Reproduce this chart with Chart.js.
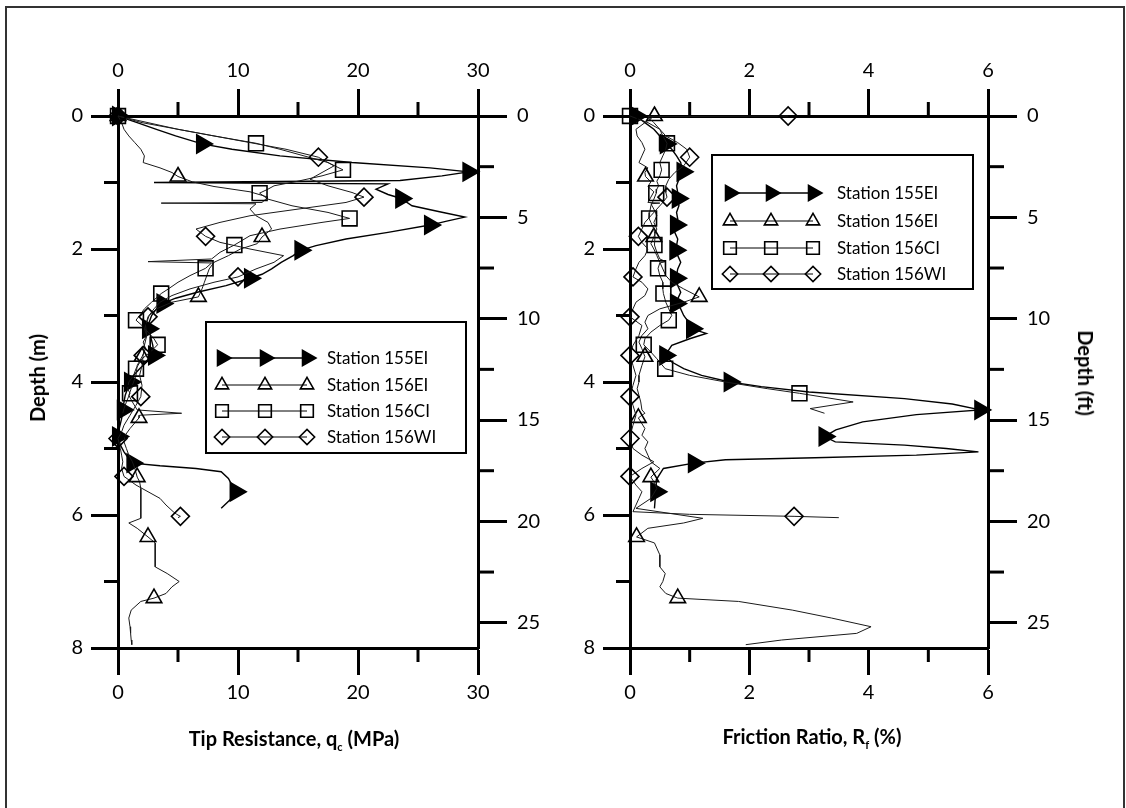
<!DOCTYPE html>
<html>
<head>
<meta charset="utf-8">
<title>CPT soundings</title>
<script src="https://cdn.jsdelivr.net/npm/chart.js"></script>
<style>
  html, body { margin: 0; padding: 0; background: #fff; overflow: hidden; }
  body { width: 1126px; height: 808px; position: relative; }
  canvas { position: absolute; left: 0; top: 0; }
  #frame { position: absolute; left: 5px; top: 6px; width: 1116px; height: 830px; border: 2px solid #333; }
  .title { position: absolute; font-family: Lato, sans-serif; font-weight: bold; font-size: 20px; color: #000; white-space: nowrap; transform: translate(-50%, -50%); }
  .title sub { font-size: 11px; vertical-align: -5px; }
  .rot-up { transform: translate(-50%, -50%) rotate(-90deg); }
  .rot-down { transform: translate(-50%, -50%) rotate(90deg); }
</style>
</head>
<body>
<div id="frame"></div>
<canvas id="qc-chart" width="1126" height="808"></canvas>
<canvas id="rf-chart" width="1126" height="808"></canvas>
<div class="title rot-up" style="left:37px; top:378px;">Depth (m)</div>
<div class="title rot-down" style="left:1086px; top:373px;">Depth (ft)</div>
<div class="title" style="left:294px; top:739px;">Tip Resistance, q<sub>c</sub> (MPa)</div>
<div class="title" style="left:812px; top:737px;">Friction Ratio, R<sub>f</sub> (%)</div>
<script>
// Station names
const stations = ["Station 155EI", "Station 156EI", "Station 156CI", "Station 156WI"];

// Axis ticks
const qcTicks = [0, 10, 20, 30];
const rfTicks = [0, 2, 4, 6];
const depthTicks = [0, 2, 4, 6, 8];
const feetTicks = [0, 5, 10, 15, 20, 25];
const qcMinor = [5, 15, 25];
const rfMinor = [1, 3, 5];
const depthMinor = [1, 3, 5, 7];
const feetMinor = [2.5, 7.5, 12.5, 17.5, 22.5];

// Station 155EI: depth (m), tip resistance (MPa), friction ratio (%)
const depth155EI_qc = [0, 0.05, 0.1, 0.2, 0.3, 0.42, 0.5, 0.6, 0.7, 0.78, 0.84, 0.9, 0.97, 1.0, 1.02, 1.1, 1.18, 1.24, 1.35, 1.44, 1.52, 1.58, 1.64, 1.75, 1.85, 1.95, 2.02, 2.1, 2.2, 2.3, 2.38, 2.44, 2.55, 2.65, 2.74, 2.82, 2.9, 3.0, 3.1, 3.2, 3.3, 3.45, 3.6, 3.7, 3.8, 3.9, 4.0, 4.1, 4.2, 4.3, 4.42, 4.55, 4.7, 4.82, 4.95, 5.05, 5.15, 5.22, 5.26, 5.3, 5.35, 5.45, 5.55, 5.65, 5.78, 5.9];
const qc155EI = [0, 0.8, 1.6, 3.2, 4.8, 7.0, 9.5, 13.5, 19.5, 26.0, 29.2, 27.0, 23.5, 3.0, 22.5, 21.5, 22.5, 23.6, 24.5, 26.8, 28.9, 27.4, 26.0, 22.5, 19.0, 16.5, 15.2, 14.6, 13.6, 12.8, 12.0, 11.0, 9.0, 6.6, 4.8, 3.7, 3.2, 2.8, 2.6, 2.5, 2.7, 2.9, 3.0, 2.4, 1.8, 1.3, 1.0, 0.8, 0.6, 0.5, 0.4, 0.3, 0.1, 0.0, 0.2, 0.5, 0.9, 1.2, 3.5, 6.5, 8.6, 9.2, 9.5, 9.8, 9.3, 8.6];
const depth155EI_rf = [0, 0.1, 0.2, 0.3, 0.42, 0.5, 0.6, 0.7, 0.84, 0.95, 1.05, 1.15, 1.24, 1.35, 1.45, 1.55, 1.64, 1.75, 1.85, 1.95, 2.02, 2.1, 2.2, 2.3, 2.44, 2.55, 2.65, 2.75, 2.82, 2.9, 3.0, 3.1, 3.2, 3.27, 3.35, 3.45, 3.6, 3.7, 3.8, 3.9, 4.0, 4.07, 4.15, 4.25, 4.33, 4.42, 4.49, 4.6, 4.72, 4.82, 4.9, 4.95, 5.0, 5.05, 5.1, 5.14, 5.17, 5.22, 5.3, 5.47, 5.65, 5.78, 5.9];
const rf155EI = [0.1, 0.25, 0.4, 0.5, 0.6, 0.7, 0.78, 0.85, 0.88, 0.82, 0.78, 0.8, 0.8, 0.82, 0.78, 0.8, 0.77, 0.75, 0.8, 0.78, 0.76, 0.8, 0.85, 0.8, 0.77, 0.8, 0.85, 0.8, 0.77, 0.85, 0.9, 0.98, 1.04, 1.28, 1.0, 0.7, 0.59, 0.7, 0.9, 1.2, 1.67, 2.2, 3.0, 4.6, 5.4, 5.87, 4.8, 3.9, 3.45, 3.26, 3.44, 4.6, 5.3, 5.84, 4.8, 3.1, 1.6, 1.07, 0.56, 0.44, 0.44, 0.42, 0.41];
const marks155EI = [0, 0.42, 0.84, 1.24, 1.64, 2.02, 2.44, 2.82, 3.2, 3.6, 4.0, 4.42, 4.82, 5.22, 5.65];

// Station 156EI
const depth156EI = [0, 0.1, 0.2, 0.3, 0.4, 0.5, 0.6, 0.7, 0.78, 0.85, 0.91, 0.99, 1.06, 1.14, 1.22, 1.3, 1.31, 1.32, 1.4, 1.5, 1.6, 1.7, 1.82, 1.92, 2.0, 2.1, 2.2, 2.3, 2.4, 2.5, 2.6, 2.72, 2.8, 2.9, 3.0, 3.1, 3.2, 3.3, 3.4, 3.5, 3.62, 3.75, 3.9, 4.0, 4.1, 4.2, 4.3, 4.42, 4.47, 4.5, 4.54, 4.7, 4.8, 4.9, 5.0, 5.1, 5.2, 5.3, 5.43, 5.5, 5.6, 5.75, 5.9, 6.05, 6.12, 6.2, 6.33, 6.42, 6.6, 6.78, 6.88, 7.0, 7.08, 7.18, 7.25, 7.3, 7.43, 7.55, 7.68, 7.78, 7.88, 7.95];
const qc156EI = [0, 0.3, 0.5, 0.9, 1.4, 1.9, 2.2, 2.1, 3.5, 4.5, 5.0, 6.2, 8.0, 11.0, 12.5, 12.0, 3.6, 11.5, 11.0, 11.5, 12.5, 12.8, 12.0, 11.6, 10.2, 9.2, 8.0, 7.6, 7.4, 7.2, 7.0, 6.7, 4.5, 3.2, 2.6, 2.4, 2.2, 2.4, 2.1, 2.3, 2.0, 1.6, 1.5, 1.3, 1.1, 0.9, 1.2, 1.6, 5.3, 1.8, 1.75, 1.0, 0.6, 0.5, 0.7, 0.9, 1.2, 1.4, 1.6, 1.8, 1.9, 1.9, 1.9, 1.9, 0.9, 1.6, 2.5, 3.1, 3.1, 3.1, 4.1, 5.1, 4.5, 4.0, 3.0, 1.9, 1.1, 0.9, 1.0, 1.05, 1.1, 1.15];
const rf156EI = [0.41, 0.25, 0.1, 0.12, 0.2, 0.25, 0.2, 0.15, 0.3, 0.25, 0.26, 0.35, 0.3, 0.4, 0.35, 0.3, 0.5, 0.35, 0.4, 0.45, 0.4, 0.45, 0.4, 0.35, 0.4, 0.45, 0.5, 0.55, 0.6, 0.7, 0.9, 1.16, 0.9, 0.5, 0.3, 0.25, 0.3, 0.2, 0.15, 0.2, 0.25, 0.2, 0.15, 0.15, 0.12, 0.15, 0.18, 0.2, 0.25, 0.2, 0.14, 0.25, 0.2, 0.3, 0.25, 0.3, 0.35, 0.5, 0.35, 0.4, 0.45, 0.35, 0.1, 1.22, 0.9, 0.3, 0.11, 0.41, 0.5, 0.5, 0.59, 0.55, 0.5, 0.6, 0.8, 1.82, 2.72, 3.38, 4.04, 3.8, 2.54, 1.94];
const marks156EI = [0, 0.91, 1.82, 2.72, 3.62, 4.54, 5.43, 6.33, 7.25];

// Station 156CI
const depth156CI = [0, 0.1, 0.2, 0.3, 0.41, 0.5, 0.6, 0.7, 0.81, 0.9, 0.98, 1.05, 1.1, 1.16, 1.25, 1.35, 1.45, 1.54, 1.6, 1.7, 1.8, 1.94, 2.05, 2.15, 2.19, 2.21, 2.29, 2.4, 2.5, 2.6, 2.67, 2.8, 2.9, 3.0, 3.07, 3.15, 3.25, 3.35, 3.44, 3.55, 3.65, 3.8, 3.9, 4.0, 4.1, 4.17, 4.3, 4.4, 4.47];
const qc156CI = [0, 2.5, 5.0, 8.0, 11.5, 13.5, 15.5, 17.5, 18.75, 17.0, 15.0, 13.0, 12.5, 11.8, 12.5, 14.5, 17.5, 19.3, 17.0, 13.5, 11.0, 9.7, 8.5, 7.8, 2.5, 7.8, 7.3, 6.0, 5.0, 4.2, 3.6, 2.8, 2.2, 1.8, 1.5, 2.0, 2.5, 3.0, 3.3, 2.7, 2.0, 1.5, 1.3, 0.9, 0.8, 1.0, 0.7, 0.5, 0.4];
const rf156CI = [0, 0.3, 0.5, 0.55, 0.62, 0.6, 0.55, 0.5, 0.53, 0.5, 0.45, 0.48, 0.45, 0.44, 0.4, 0.35, 0.33, 0.32, 0.35, 0.4, 0.42, 0.41, 0.45, 0.5, 0.6, 0.5, 0.47, 0.5, 0.55, 0.55, 0.56, 0.6, 0.65, 0.7, 0.65, 0.5, 0.35, 0.25, 0.23, 0.35, 0.45, 0.59, 1.0, 1.6, 2.3, 2.84, 3.74, 3.02, 3.26];
const marks156CI = [0, 0.41, 0.81, 1.16, 1.54, 1.94, 2.29, 2.67, 3.07, 3.44, 3.8, 4.17];

// Station 156WI
const depth156WI = [0, 0.01, 0.1, 0.2, 0.3, 0.4, 0.5, 0.62, 0.75, 0.85, 0.95, 1.05, 1.15, 1.22, 1.3, 1.4, 1.5, 1.6, 1.7, 1.81, 1.9, 2.0, 2.1, 2.2, 2.3, 2.42, 2.5, 2.6, 2.7, 2.8, 2.9, 3.02, 3.15, 3.3, 3.45, 3.6, 3.75, 3.9, 4.05, 4.22, 4.35, 4.5, 4.65, 4.75, 4.85, 5.0, 5.1, 5.2, 5.3, 5.42, 5.55, 5.65, 5.75, 5.85, 5.95, 5.99, 6.02, 6.04];
const qc156WI = [0, 0.2, 2.0, 5.0, 8.0, 11.0, 14.0, 16.7, 18.0, 17.0, 16.0, 17.5, 19.5, 20.5, 19.0, 15.0, 11.0, 8.5, 6.5, 7.3, 8.5, 11.0, 13.8, 13.0, 11.5, 10.0, 8.0, 6.0, 4.5, 3.5, 3.0, 2.5, 2.3, 2.4, 2.2, 2.1, 2.0, 1.8, 2.0, 1.9, 1.5, 1.0, 0.5, 0.3, 0.0, 0.2, 0.3, 0.4, 0.3, 0.5, 1.5, 2.5, 3.5, 4.0, 4.6, 4.9, 5.2, 5.0];
const rf156WI = [2.65, 0.3, 0.4, 0.5, 0.6, 0.8, 0.95, 1.0, 0.9, 0.75, 0.65, 0.6, 0.6, 0.62, 0.55, 0.45, 0.35, 0.25, 0.2, 0.14, 0.2, 0.3, 0.25, 0.15, 0.1, 0.05, 0.2, 0.3, 0.25, 0.1, 0.05, 0.0, 0.2, 0.15, 0.05, 0.0, 0.05, 0.1, 0.05, 0.0, 0.05, 0.1, 0.05, 0.02, 0.0, 0.05, 0.2, 0.4, 0.2, 0.0, 0.1, 0.2, 0.15, 0.1, 0.05, 1.0, 2.75, 3.5];
const marks156WI = [0, 0.62, 1.22, 1.81, 2.42, 3.02, 3.6, 4.22, 4.85, 5.42, 6.02];

const FT_PER_M = 1 / 0.3048;
const TICK_FONT = { family: "Lato, 'Open Sans', sans-serif", size: 20 };

// marker and line look for each station
const looks = [
  { pointStyle: "triangle", rotation: 90, radius: 10.5, fill: "#000", line: 1.4 },
  { pointStyle: "triangle", rotation: 0, radius: 9, fill: "rgba(0,0,0,0)", line: 1 },
  { pointStyle: "rect", rotation: 0, radius: 10.5, fill: "rgba(0,0,0,0)", line: 1 },
  { pointStyle: "rectRot", rotation: 0, radius: 9, fill: "rgba(0,0,0,0)", line: 1 }
];

function series(depths, values, marks, look) {
  return {
    data: depths.map((d, i) => ({ x: values[i], y: d })),
    showLine: true,
    borderColor: look.line > 1 ? "#000" : "#1a1a1a",
    borderWidth: look.line,
    tension: 0,
    clip: false,
    pointStyle: look.pointStyle,
    pointRotation: look.rotation,
    pointRadius: (c) => (marks.includes(depths[c.dataIndex]) ? look.radius : 0),
    pointHoverRadius: (c) => (marks.includes(depths[c.dataIndex]) ? look.radius : 0),
    pointBorderColor: "#000",
    pointBorderWidth: 1.6,
    pointBackgroundColor: look.fill
  };
}

// short ticks between the labelled ones
const minorTicks = {
  id: "minorTicks",
  afterDraw(chart, args, opts) {
    const ctx = chart.ctx;
    const area = chart.chartArea;
    ctx.save();
    ctx.strokeStyle = "#000";
    ctx.lineWidth = 3;
    opts.sets.forEach((s) => {
      const scale = chart.scales[s.axis];
      s.values.forEach((v) => {
        const p = scale.getPixelForValue(v);
        ctx.beginPath();
        if (scale.position === "left") { ctx.moveTo(area.left - s.len, p); ctx.lineTo(area.left, p); }
        if (scale.position === "right") { ctx.moveTo(area.right, p); ctx.lineTo(area.right + s.len, p); }
        if (scale.position === "top") { ctx.moveTo(p, area.top - s.len); ctx.lineTo(p, area.top); }
        if (scale.position === "bottom") { ctx.moveTo(p, area.bottom); ctx.lineTo(p, area.bottom + s.len); }
        ctx.stroke();
      });
    });
    ctx.restore();
  }
};

// boxed key with three symbols per row
const stationKey = {
  id: "stationKey",
  afterDraw(chart, args, opts) {
    const ctx = chart.ctx;
    const [x1, y1, x2, y2] = opts.box;
    ctx.save();
    ctx.fillStyle = "#fff";
    ctx.fillRect(x1, y1, x2 - x1, y2 - y1);
    ctx.strokeStyle = "#000";
    ctx.lineWidth = 2;
    ctx.strokeRect(x1, y1, x2 - x1, y2 - y1);
    stations.forEach((name, i) => {
      const look = looks[i];
      const y = opts.rows[i];
      ctx.strokeStyle = "#000";
      ctx.lineWidth = look.line;
      ctx.beginPath();
      ctx.moveTo(opts.marks[0], y);
      ctx.lineTo(opts.marks[2], y);
      ctx.stroke();
      opts.marks.forEach((mx) => {
        ctx.fillStyle = look.fill;
        ctx.strokeStyle = "#000";
        ctx.lineWidth = 1.6;
        Chart.helpers.drawPoint(ctx, {
          pointStyle: look.pointStyle,
          rotation: look.rotation,
          radius: look.radius * 0.85,
          borderWidth: 1.6
        }, mx, y);
      });
      ctx.fillStyle = "#000";
      ctx.font = "17px Lato, 'Open Sans', sans-serif";
      ctx.textBaseline = "middle";
      ctx.textAlign = "left";
      ctx.fillText(name, opts.textX, y + 1);
    });
    ctx.restore();
  }
};

function axisStyle(len) {
  return {
    grid: { drawOnChartArea: false, drawTicks: true, tickLength: len, tickWidth: 3, tickColor: "#000" },
    border: { display: true, width: 3, color: "#000" }
  };
}

function fixedTicks(values) {
  return (scale) => { scale.ticks = values.map((v) => ({ value: v })); };
}

function panel(canvasId, cfg) {
  const [left, right, top, bottom] = cfg.area;
  return new Chart(document.getElementById(canvasId), {
    type: "scatter",
    data: { datasets: cfg.datasets },
    options: {
      responsive: false,
      animation: false,
      events: [],
      layout: { padding: 0 },
      plugins: {
        legend: { display: false },
        tooltip: { enabled: false },
        minorTicks: { sets: cfg.minor },
        stationKey: cfg.key
      },
      scales: {
        x: Object.assign({
          type: "linear", position: "bottom", min: cfg.xMin, max: cfg.xMax,
          afterBuildTicks: fixedTicks(cfg.xTicks),
          afterFit: (s) => { s.height = 808 - bottom; },
          ticks: { font: TICK_FONT, color: "#000", padding: 6, maxRotation: 0 }
        }, axisStyle(27)),
        xTop: Object.assign({
          type: "linear", position: "top", min: cfg.xMin, max: cfg.xMax,
          afterBuildTicks: fixedTicks(cfg.xTicks),
          afterFit: (s) => { s.height = top; },
          ticks: { font: TICK_FONT, color: "#000", padding: 6, maxRotation: 0 }
        }, axisStyle(27)),
        y: Object.assign({
          type: "linear", position: "left", min: 0, max: 8, reverse: true,
          afterBuildTicks: fixedTicks(depthTicks),
          afterFit: (s) => { s.width = left; },
          ticks: { font: TICK_FONT, color: "#000", padding: 8 }
        }, axisStyle(27)),
        yFt: Object.assign({
          type: "linear", position: "right", min: 0, max: 8 * FT_PER_M, reverse: true,
          afterBuildTicks: fixedTicks(feetTicks),
          afterFit: (s) => { s.width = 1126 - right; },
          ticks: { font: TICK_FONT, color: "#000", padding: 10 }
        }, axisStyle(29))
      }
    },
    plugins: [minorTicks, stationKey]
  });
}

const minorSets = (xMinor) => [
  { axis: "x", values: xMinor, len: 14 },
  { axis: "xTop", values: xMinor, len: 14 },
  { axis: "y", values: depthMinor, len: 14 },
  { axis: "yFt", values: feetMinor, len: 16 }
];

panel("qc-chart", {
  area: [118, 478, 116, 648],
  xMin: 0, xMax: 30, xTicks: qcTicks,
  minor: minorSets(qcMinor),
  key: { box: [206, 322, 466, 453], rows: [358, 385, 411, 437], marks: [222, 265, 307], textX: 327 },
  datasets: [
    series(depth156WI, qc156WI, marks156WI, looks[3]),
    series(depth156CI, qc156CI, marks156CI, looks[2]),
    series(depth156EI, qc156EI, marks156EI, looks[1]),
    series(depth155EI_qc, qc155EI, marks155EI, looks[0])
  ]
});

panel("rf-chart", {
  area: [630, 988, 116, 648],
  xMin: 0, xMax: 6, xTicks: rfTicks,
  minor: minorSets(rfMinor),
  key: { box: [712, 155, 973, 289], rows: [193, 221, 248, 274], marks: [730, 771, 813], textX: 837 },
  datasets: [
    series(depth156WI, rf156WI, marks156WI, looks[3]),
    series(depth156CI, rf156CI, marks156CI, looks[2]),
    series(depth156EI, rf156EI, marks156EI, looks[1]),
    series(depth155EI_rf, rf155EI, marks155EI, looks[0])
  ]
});
</script>
</body>
</html>
